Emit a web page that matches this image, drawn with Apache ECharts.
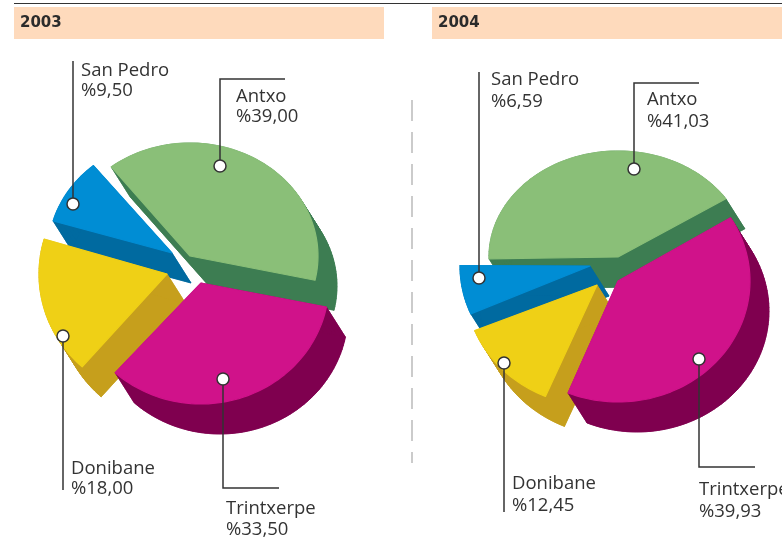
<!DOCTYPE html>
<html><head><meta charset="utf-8">
<style>html,body{margin:0;padding:0;background:#fff}#c{width:782px;height:541px}</style>
<script src="https://cdn.jsdelivr.net/npm/echarts@6/dist/echarts.min.js"></script>
</head><body><div id="c"></div>
<script>
const categories = ['Antxo', 'Trintxerpe', 'Donibane', 'San Pedro'];
const years = ['2003', '2004'];
const values2003 = [39.00, 33.50, 18.00, 9.50];
const values2004 = [41.03, 39.93, 12.45, 6.59];

const faceColors = ['#8abf78', '#d0128a', '#efd016', '#008dd4'];
const sideColors = ['#3d7d52', '#7f004f', '#c69f1c', '#006aa0'];
const depth = [19, 30];

// Layout per slice: exploded apex, radii, start of the sweep (degrees clockwise from top)
const layout2003 = [
  {cx: 190, cy: 256, rx: 128, ry: 113, start: -38},
  {cx: 201, cy: 283, rx: 128, ry: 121, start: 101.5},
  {cx: 167, cy: 274, rx: 128, ry: 124, start: 221.5},
  {cx: 172, cy: 253, rx: 124, ry: 113, start: 286.5}
];
const layout2004 = [
  {cx: 618, cy: 257, rx: 129, ry: 106, start: -91},
  {cx: 618, cy: 281, rx: 132, ry: 121, start: 58.5},
  {cx: 597, cy: 285, rx: 132, ry: 121, start: 203},
  {cx: 590, cy: 266, rx: 130, ry: 120, start: 246.5}
];
const order2003 = [3, 2, 0, 1];
const order2004 = [0, 3, 2, 1];

// Leader lines: polyline from the dot, label position
const leaders2003 = [
  {pts: [[220,166],[220,79],[285,79]], lx: 236, ly: [97,117]},
  {pts: [[223,379],[223,488],[279,488]], lx: 226, ly: [509,530]},
  {pts: [[63,336],[63,490]], lx: 71, ly: [469,489]},
  {pts: [[73,204],[73,61]], lx: 81, ly: [71,91]}
];
const leaders2004 = [
  {pts: [[634,169],[634,83],[699,83]], lx: 647, ly: [100,122]},
  {pts: [[699,359],[699,467],[755,467]], lx: 699, ly: [490,512]},
  {pts: [[504,363],[504,512]], lx: 512, ly: [484,506]},
  {pts: [[479,278],[479,72]], lx: 491, ly: [80,102]}
];

function sector(g, sweep) {
  const pts = [[g.cx, g.cy]];
  const n = Math.ceil(sweep / 2);
  for (let i = 0; i <= n; i++) {
    const t = (g.start + sweep * i / n) * Math.PI / 180;
    pts.push([g.cx + g.rx * Math.sin(t), g.cy - g.ry * Math.cos(t)]);
  }
  return pts;
}

function pieSeries(values, layout, order) {
  return {
    type: 'custom',
    coordinateSystem: 'none',
    silent: true,
    animation: false,
    z: 2,
    data: order.map(i => [i, values[i]]),
    renderItem(params, api) {
      const i = api.value(0), sweep = api.value(1) * 3.6;
      const top = sector(layout[i], sweep);
      const low = top.map(p => [p[0] + depth[0], p[1] + depth[1]]);
      const side = {fill: sideColors[i], stroke: sideColors[i], lineWidth: 0.6};
      const children = [];
      for (let k = 0; k < top.length; k++) {
        const m = (k + 1) % top.length;
        children.push({type: 'polygon', shape: {points: [top[k], top[m], low[m], low[k]]}, style: side});
      }
      children.push({type: 'polygon', shape: {points: low}, style: side});
      children.push({type: 'polygon', shape: {points: top},
        style: {fill: faceColors[i], stroke: faceColors[i], lineWidth: 1.2, lineJoin: 'round'}});
      return {type: 'group', children};
    }
  };
}

const fmt = v => '%' + v.toFixed(2).replace('.', ',');
const labelFont = '18.5px "Open Sans", sans-serif';
const ink = '#333333';
const elements = [];

function annotate(values, leaders) {
  leaders.forEach((l, i) => {
    elements.push({type: 'polyline', z: 50, silent: true, shape: {points: l.pts},
      style: {stroke: ink, lineWidth: 1.5, fill: null}});
    elements.push({type: 'circle', z: 51, silent: true, shape: {cx: l.pts[0][0], cy: l.pts[0][1], r: 6},
      style: {fill: '#fff', stroke: ink, lineWidth: 1.5}});
    [categories[i], fmt(values[i])].forEach((s, k) => {
      elements.push({type: 'text', z: 52, silent: true, x: l.lx, y: l.ly[k],
        style: {text: s, font: labelFont, fill: ink, textVerticalAlign: 'middle', textAlign: 'left'}});
    });
  });
}

elements.push({type: 'rect', z: 1, silent: true, shape: {x: 14, y: 7, width: 370, height: 32}, style: {fill: '#fedabc'}});
elements.push({type: 'rect', z: 1, silent: true, shape: {x: 432, y: 7, width: 350, height: 32}, style: {fill: '#fedabc'}});
elements.push({type: 'line', z: 1, silent: true, shape: {x1: 14, y1: 3.5, x2: 782, y2: 3.5}, style: {stroke: '#333', lineWidth: 1}});
elements.push({type: 'line', z: 1, silent: true, shape: {x1: 412, y1: 100, x2: 412, y2: 463},
  style: {stroke: '#bbbbbb', lineWidth: 1.5, lineDash: [21, 11]}});
[[20, years[0]], [438, years[1]]].forEach(([x, t]) => {
  elements.push({type: 'text', z: 2, silent: true, x, y: 23,
    style: {text: t, font: 'bold 15px "DejaVu Sans", sans-serif', fill: '#2b2b2b', textVerticalAlign: 'middle'}});
});
annotate(values2003, leaders2003);
annotate(values2004, leaders2004);

const chart = echarts.init(document.getElementById('c'), null, {renderer: 'canvas'});
chart.setOption({
  animation: false,
  backgroundColor: '#fff',
  graphic: {elements},
  series: [pieSeries(values2003, layout2003, order2003), pieSeries(values2004, layout2004, order2004)]
});
</script></body></html>
